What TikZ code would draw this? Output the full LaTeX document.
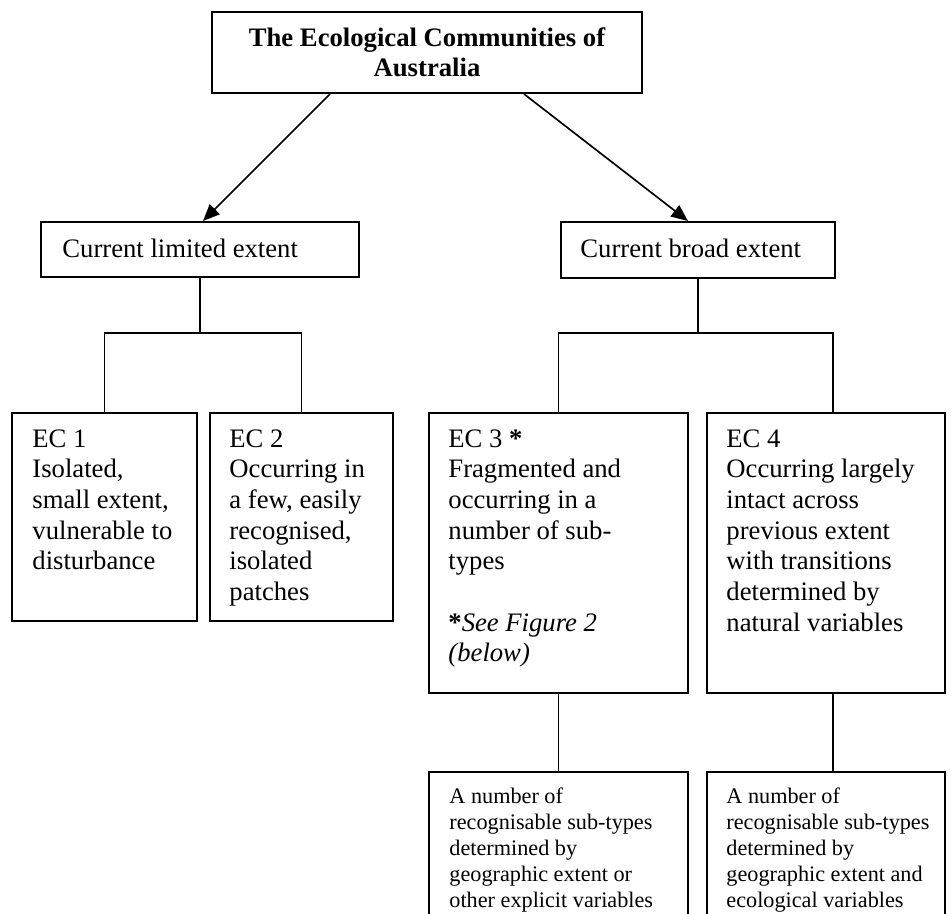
\documentclass[tikz,border=0pt]{standalone}
\usepackage{fontspec}
\setmainfont{Liberation Serif}
\usetikzlibrary{arrows.meta}
\newcommand{\PX}{0.45pt}
% stacked lines whose baseline is that of the first line
\newcommand{\leftLines}[1]{\begin{tabular}[t]{@{}l@{}}#1\end{tabular}}
\newcommand{\centreLines}[1]{\begin{tabular}[t]{@{}c@{}}#1\end{tabular}}
\begin{document}
\begin{tikzpicture}[x=0.45pt,y=-0.45pt,
  box/.style={draw, line width=0.9pt, rectangle, inner sep=0pt, anchor=north west},
  body/.style={font=\fontsize{12}{13.8}\selectfont, inner sep=0pt, anchor=base west},
  small/.style={font=\fontsize{10}{11.7}\selectfont, inner sep=0pt, anchor=base west},
  title/.style={font=\fontsize{12}{13.5}\selectfont\bfseries, inner sep=0pt, anchor=base},
  link/.style={line width=0.75pt},
  arrow/.style={line width=0.75pt, -{Triangle[length=7.5pt,width=6.3pt]}}]
\clip (0,0) rectangle (951,914);
\fill[white] (0,0) rectangle (951,914);

% boxes
\node[box, minimum width=430*\PX, minimum height=81*\PX] (top) at (211,11) {};
\node[box, minimum width=318*\PX, minimum height=55*\PX] (limited) at (40,221) {};
\node[box, minimum width=274*\PX, minimum height=56*\PX] (broad) at (560,221) {};
\node[box, minimum width=185*\PX, minimum height=208*\PX] (ec1) at (11,412) {};
\node[box, minimum width=183*\PX, minimum height=208*\PX] (ec2) at (209,412) {};
\node[box, minimum width=259*\PX, minimum height=280*\PX] (ec3) at (428,412) {};
\node[box, minimum width=238*\PX, minimum height=280*\PX] (ec4) at (706,412) {};
\node[box, minimum width=259*\PX, minimum height=170*\PX] (sub3) at (428,771) {};
\node[box, minimum width=238*\PX, minimum height=170*\PX] (sub4) at (706,771) {};

% texts
\node[title] (toptext) at ([shift={(216,36)}]top.north west)
  {\centreLines{The Ecological Communities of\\Australia}};
\node[body] (limitedtext) at ([shift={(22,36)}]limited.north west) {Current limited extent};
\node[body] (broadtext) at ([shift={(20,36)}]broad.north west) {Current broad extent};
\node[body] (ec1text) at ([shift={(21,35)}]ec1.north west)
  {\leftLines{EC 1\\Isolated,\\small extent,\\vulnerable to\\disturbance}};
\node[body] (ec2text) at ([shift={(20,35)}]ec2.north west)
  {\leftLines{EC 2\\Occurring in\\a few, easily\\recognised,\\isolated\\patches}};
\node[body] (ec3text) at ([shift={(20,35)}]ec3.north west)
  {\leftLines{EC 3 \textbf{*}\\Fragmented and\\occurring in a\\number of sub-\\types\\ \\\textbf{*}\textit{See Figure 2}\\\textit{(below)}}};
\node[body] (ec4text) at ([shift={(20,35)}]ec4.north west)
  {\leftLines{EC 4\\Occurring largely\\intact across\\previous extent\\with transitions\\determined by\\natural variables}};
\node[small] (sub3text) at ([shift={(21,32)}]sub3.north west)
  {\leftLines{A number of\\recognisable sub-types\\determined by\\geographic extent or\\other explicit variables}};
\node[small] (sub4text) at ([shift={(20,32)}]sub4.north west)
  {\leftLines{A number of\\recognisable sub-types\\determined by\\geographic extent and\\ecological variables}};

% junction levels
\coordinate (jl) at (0,333);
\coordinate (jr) at (0,333);
\coordinate (rcol) at (833,0);

% connectors
\draw[arrow] ([shift={(-97,0)}]top.south) -- ([shift={(3,0)}]limited.north);
\draw[arrow] ([shift={(97,0)}]top.south) -- ([shift={(-10,0)}]broad.north);
\draw[link] (limited.south) -- (limited.south |- jl);
\draw[link] (ec1.north) |- (jl -| ec2.north) -- (ec2.north);
\draw[link] (broad.south) -- (broad.south |- jr);
\draw[link] (ec3.north) |- (jr -| rcol) -- (ec4.north -| rcol);
\draw[link] (ec3.south) -- (sub3.north);
\draw[link] (ec4.south -| rcol) -- (sub4.north -| rcol);
\end{tikzpicture}
\end{document}
